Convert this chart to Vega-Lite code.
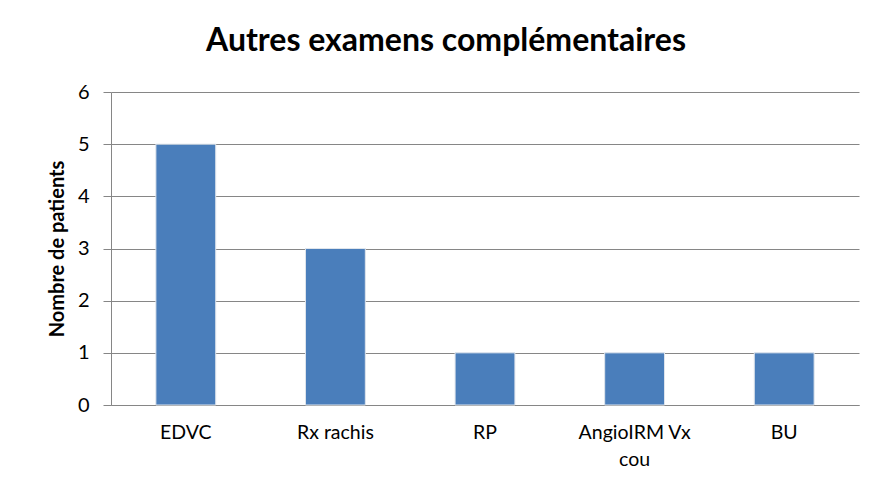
{
  "$schema": "https://vega.github.io/schema/vega-lite/v6.json",
  "autosize": {"type": "none"},
  "width": 748,
  "height": 313,
  "padding": {"left": 111, "top": 92, "right": 15, "bottom": 76},
  "background": "white",
  "title": {
    "text": "Autres examens complémentaires",
    "font": "Lato",
    "fontSize": 32,
    "fontWeight": "bold",
    "color": "#000000",
    "anchor": "middle",
    "dx": -39,
    "offset": 24
  },
  "data": {
    "values": [
      {"examen": "EDVC", "patients": 5},
      {"examen": "Rx rachis", "patients": 3},
      {"examen": "RP", "patients": 1},
      {"examen": "AngioIRM Vx cou", "patients": 1},
      {"examen": "BU", "patients": 1}
    ]
  },
  "mark": {"type": "bar", "color": "#4A7EBB", "stroke": "#dfe5ec", "strokeWidth": 1},
  "encoding": {
    "x": {
      "field": "examen",
      "type": "nominal",
      "sort": null,
      "scale": {"paddingInner": 0.6, "paddingOuter": 0.3},
      "axis": {
        "title": null,
        "labelAngle": 0,
        "labelFont": "Lato",
        "labelFontSize": 19.5,
        "labelColor": "#000000",
        "labelPadding": 18,
        "labelLineHeight": 27,
        "labelExpr": "datum.label == 'AngioIRM Vx cou' ? ['AngioIRM Vx', 'cou'] : datum.label",
        "ticks": false,
        "domainColor": "#868686",
        "grid": false
      }
    },
    "y": {
      "field": "patients",
      "type": "quantitative",
      "scale": {"domain": [0, 6]},
      "axis": {
        "title": "Nombre de patients",
        "titleFont": "Lato",
        "titleFontSize": 20,
        "titleFontWeight": "bold",
        "titleColor": "#000000",
        "titlePadding": 10,
        "values": [0, 1, 2, 3, 4, 5, 6],
        "labelFont": "Lato",
        "labelFontSize": 20,
        "labelColor": "#000000",
        "labelPadding": 14,
        "tickSize": 8,
        "tickColor": "#868686",
        "domainColor": "#868686",
        "gridColor": "#868686",
        "grid": true
      }
    }
  },
  "config": {
    "view": {"stroke": null}
  }
}
